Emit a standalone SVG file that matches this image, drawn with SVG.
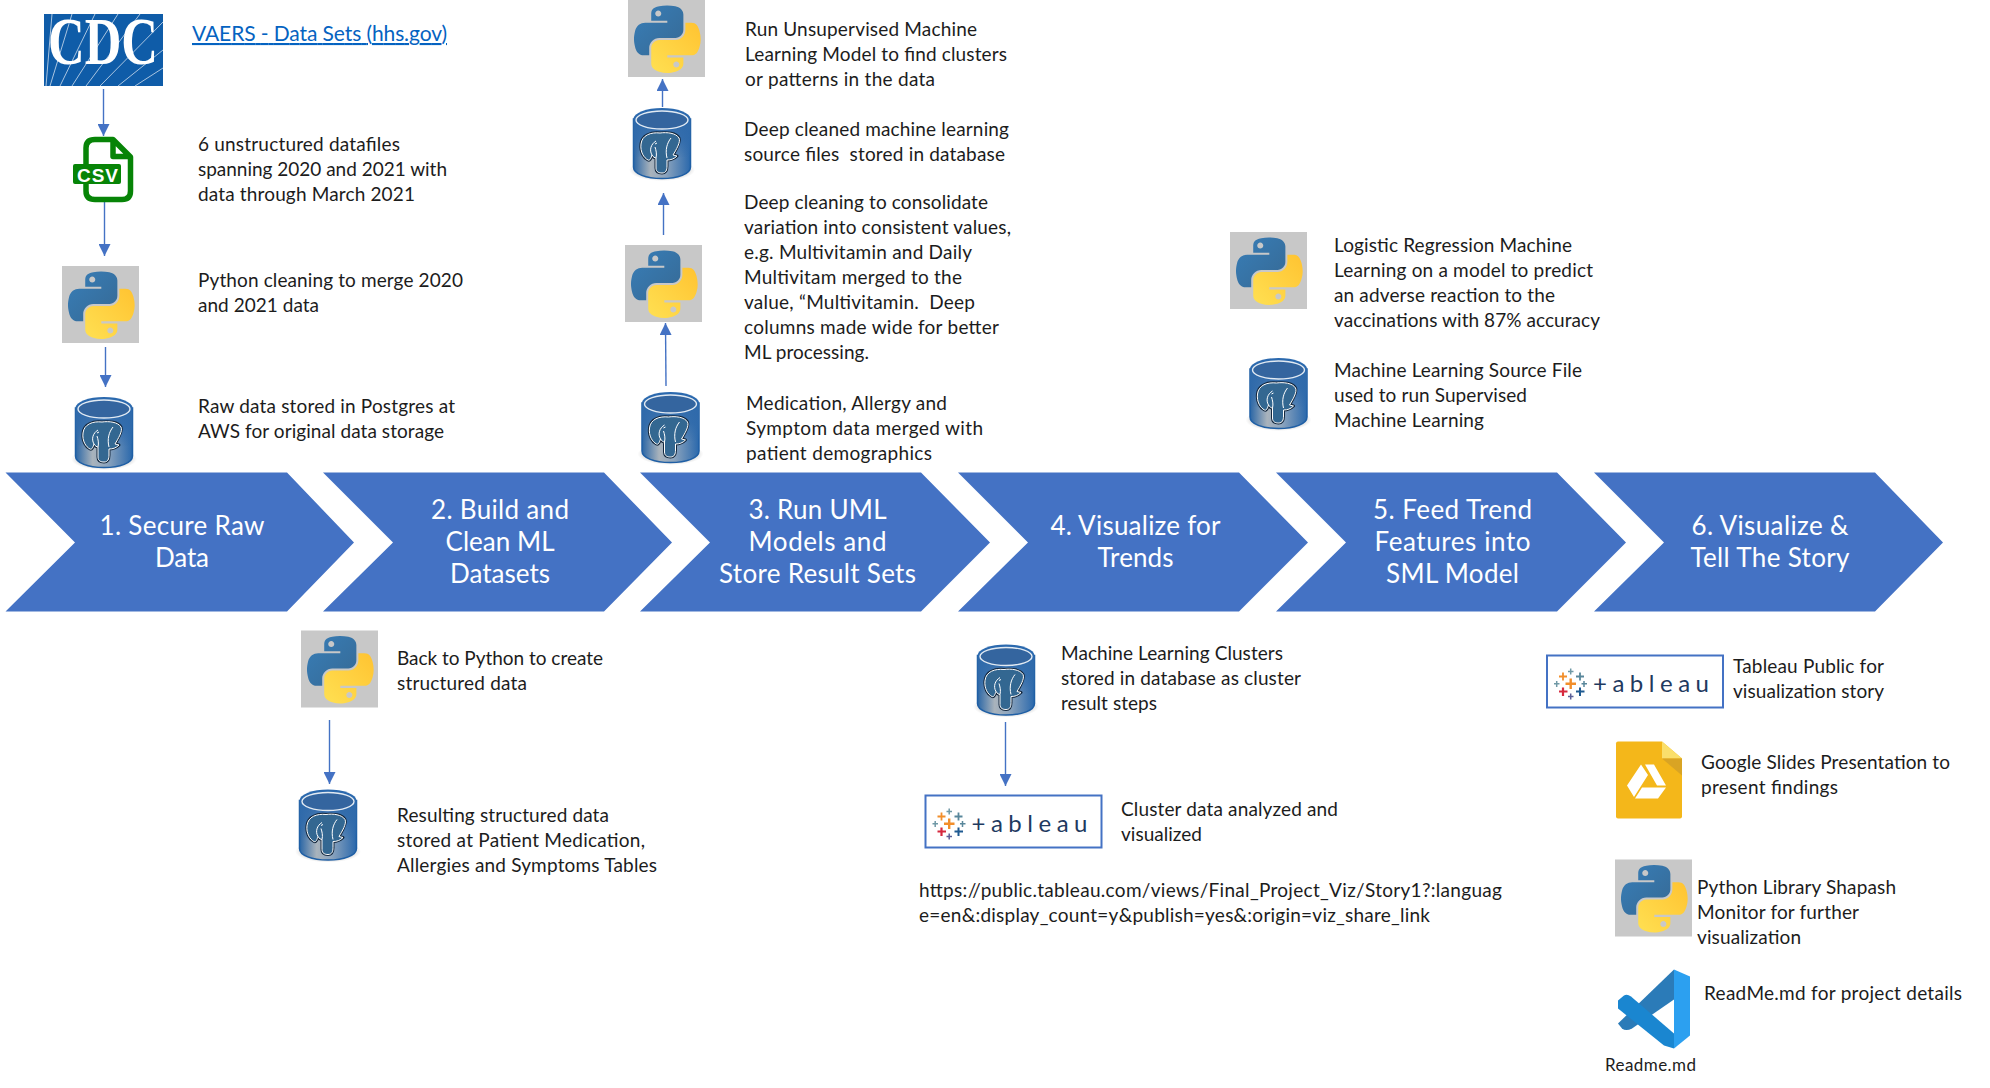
<svg xmlns="http://www.w3.org/2000/svg" width="1990" height="1088" viewBox="0 0 1990 1088">
<style>
text{font-family:Lato,"Liberation Sans",sans-serif;fill:#1c1c1c;font-size:19px;white-space:pre}
.h{fill:#fff;font-size:26px;text-anchor:middle}
.c{fill:#4472C4}
.a{stroke:#4472C4;stroke-width:1.4;fill:none;marker-end:url(#ah)}
.lk{fill:#0563C1;font-size:21px;text-decoration:underline}
.py{fill:#C8C8C8}
</style>
<defs>
<marker id="ah" markerUnits="userSpaceOnUse" markerWidth="12" markerHeight="12" refX="12" refY="6" orient="auto"><path d="M0,0L12,6L0,12Z" fill="#4472C4"/></marker>
<linearGradient id="pb" x1="0" y1="0" x2="1" y2="1"><stop offset="0" stop-color="#387EB8"/><stop offset="1" stop-color="#366994"/></linearGradient>
<linearGradient id="py" x1="0" y1="1" x2="1" y2="0"><stop offset="0" stop-color="#FFE052"/><stop offset="1" stop-color="#FFC331"/></linearGradient>
<linearGradient id="cy" x1="0" y1="0" x2="1" y2="0"><stop offset="0" stop-color="#2A66A6"/><stop offset=".3" stop-color="#A9B3BC"/><stop offset=".55" stop-color="#8FA6BE"/><stop offset="1" stop-color="#2A68AC"/></linearGradient>
<linearGradient id="cyv" x1="0" y1="0" x2="0" y2="1"><stop offset="0" stop-color="#2F6AAB"/><stop offset=".5" stop-color="#2F6AAB" stop-opacity=".85"/><stop offset="1" stop-color="#2F6AAB" stop-opacity="0"/></linearGradient>
<radialGradient id="sh"><stop offset=".6" stop-color="#999" stop-opacity=".75"/><stop offset="1" stop-color="#bbb" stop-opacity="0"/></radialGradient>
<g id="python">
<rect class="py" width="77" height="77"/>
<g transform="translate(6,5.500) scale(.6)">
<path fill="url(#pb)" d="M54.919,0C50.335,.022 45.958,.413 42.106,1.095C30.76,3.099 28.7,7.295 28.7,15.032V25.251H55.513V28.657H18.638C10.845,28.657 4.022,33.341 1.888,42.251C-.574,52.464 -.683,58.837 1.888,69.501C3.794,77.439 8.345,83.095 16.138,83.095H25.356V70.845C25.356,61.995 33.013,54.189 42.106,54.189H68.888C76.343,54.189 82.294,48.051 82.294,40.564V15.033C82.294,7.767 76.164,2.308 68.888,1.095C64.282,.328 59.502,-.02 54.919,0ZM40.419,8.22C43.188,8.22 45.45,10.518 45.45,13.345C45.45,16.161 43.188,18.438 40.419,18.438C37.639,18.438 35.388,16.161 35.388,13.345C35.388,10.518 37.639,8.22 40.419,8.22Z"/>
<path fill="url(#py)" d="M85.638,28.657V40.563C85.638,49.794 77.812,57.563 68.888,57.563H42.107C34.771,57.563 28.7,63.842 28.7,71.188V96.719C28.7,103.985 35.019,108.259 42.107,110.344C50.594,112.84 58.733,113.291 68.888,110.344C75.638,108.39 82.294,104.456 82.294,96.719V86.501H55.513V83.095H95.7C103.493,83.095 106.397,77.66 109.107,69.501C111.906,61.102 111.847,53.025 109.107,42.251C107.181,34.494 103.503,28.657 95.7,28.657ZM70.575,93.313C73.354,93.313 75.606,95.591 75.606,98.407C75.606,101.233 73.354,103.532 70.575,103.532C67.805,103.532 65.544,101.233 65.544,98.407C65.544,95.591 67.805,93.313 70.575,93.313Z"/>
</g>
</g>
<g id="db">
<ellipse cx="33" cy="62" rx="33" ry="11" fill="url(#sh)"/>
<path d="M4.500,11V59C4.500,66 17,70.500 33,70.500C49,70.500 61.500,66 61.500,59V11Z" fill="url(#cy)" stroke="#1F5FA5" stroke-width="1.500"/>
<path d="M4.500,11V47C10,52 56,52 61.500,47V11Z" fill="url(#cyv)"/>
<ellipse cx="33" cy="11" rx="28.500" ry="11" fill="#2B69AE"/>
<ellipse cx="33" cy="12" rx="26" ry="9" fill="#34659F" stroke="#E2EAF2" stroke-width="1.400"/>
<path d="M31,25C22,24 13,27 12,36C11,44 15,50 19,52C21,53 22,50 23,47C24,49 26,50 27,50L27,60C27,64 30,65 33,65C37,65 38,62 38,58L38,52C42,52 45,51 48,48L44,47C47,42 52,34 50,30C47,25 38,24 31,25Z" fill="#336791" stroke="#12263C" stroke-width="3" stroke-linejoin="round"/>
<path d="M31,25C22,24 13,27 12,36C11,44 15,50 19,52C21,53 22,50 23,47C24,49 26,50 27,50L27,60C27,64 30,65 33,65C37,65 38,62 38,58L38,52C42,52 45,51 48,48L44,47C47,42 52,34 50,30C47,25 38,24 31,25Z" fill="#336791" stroke="#fff" stroke-width="1" stroke-linejoin="round"/>
<path d="M23,47C20,42 22,36 27,33M38,50C36,42 38,35 42,30M27,50C28,46 27,42 26,39M26,36l2,-1" fill="none" stroke="#fff" stroke-width="1"/>
</g>
<g id="tableau">
<rect x="1" y="1" width="176" height="52" fill="#fff" stroke="#4472C4" stroke-width="2"/>
<g fill="none">
<path stroke="#F28E2B" stroke-width="2.400" d="M19.500,29.300h10.500M24.700,24v10.500"/>
<path stroke="#D6293E" stroke-width="2.200" d="M13,37h8.500M17,33v8.500"/>
<path stroke="#1F5A91" stroke-width="2" d="M30,37h8.500M34,33v8.500"/>
<path stroke="#F28E2B" stroke-width="1.800" d="M13,22h8M17,18v8"/>
<path stroke="#59879B" stroke-width="1.800" d="M30,22h8M34,18v8"/>
<path stroke="#7099A6" stroke-width="1.500" d="M22,17h5.500M24.700,14v6"/>
<path stroke="#7099A6" stroke-width="1.500" d="M8,29.300h5.500M10.700,26.500v6"/>
<path stroke="#59879B" stroke-width="1.500" d="M35.500,29.300h5.500M38,26.500v6"/>
<path stroke="#5B5F97" stroke-width="1.500" d="M22,42h5.500M24.700,39v6"/>
</g>
<text x="47" y="37" textLength="116" style="font-size:24px;fill:#1F3A5F">+ableau</text>
</g>
</defs>

<g id="connectors">
<path class="a" d="M103.500,89V136"/>
<path class="a" d="M104.500,202V256"/>
<path class="a" d="M105.500,347V387"/>
<path class="a" d="M662.500,107V79"/>
<path class="a" d="M663.500,235V193"/>
<path class="a" d="M666,386L665.500,323"/>
<path class="a" d="M329.500,720V784"/>
<path class="a" d="M1005.500,722V786"/>
</g>

<g id="step-1"><path class="c" d="M5.500,472.500H287L354,542.500L287,611.500H5.500L75,542.500Z"/><text class="h" x="182" y="535" textLength="165">1. Secure Raw</text><text class="h" x="182" y="567" textLength="54">Data</text></g>
<g id="step-2"><path class="c" d="M323,472.500H604L672,542.500L604,611.500H323L393,542.500Z"/><text class="h" x="500" y="519" textLength="138">2. Build and</text><text class="h" x="500" y="551" textLength="109">Clean ML</text><text class="h" x="500" y="583" textLength="100">Datasets</text></g>
<g id="step-3"><path class="c" d="M640,472.500H921L990,542.500L921,611.500H640L710,542.500Z"/><text class="h" x="817.500" y="519" textLength="138">3. Run UML</text><text class="h" x="817.500" y="551" textLength="138">Models and</text><text class="h" x="817.500" y="583" textLength="197">Store Result Sets</text></g>
<g id="step-4"><path class="c" d="M958,472.500H1239L1308,542.500L1239,611.500H958L1028,542.500Z"/><text class="h" x="1135.500" y="535" textLength="170">4. Visualize for</text><text class="h" x="1135.500" y="567" textLength="76">Trends</text></g>
<g id="step-5"><path class="c" d="M1276,472.500H1557L1626,542.500L1557,611.500H1276L1346,542.500Z"/><text class="h" x="1452.500" y="519" textLength="159">5. Feed Trend</text><text class="h" x="1452.500" y="551" textLength="156">Features into</text><text class="h" x="1452.500" y="583" textLength="133">SML Model</text></g>
<g id="step-6"><path class="c" d="M1594,472.500H1875L1943,542.500L1875,611.500H1594L1664,542.500Z"/><text class="h" x="1770" y="535" textLength="157">6. Visualize &amp;</text><text class="h" x="1770" y="567" textLength="159">Tell The Story</text></g>

<g id="cdc">
<rect x="44" y="14" width="119" height="72" fill="#0F5CA8"/>
<path d="M50,86L72,14M60,86L95,14M72,86L118,14M86,86L140,14M100,86L163,22M118,86L163,50M135,86L163,68M46,86L52,14" stroke="#A9C4E0" stroke-width="1" fill="none"/>
<text x="48" y="64" textLength="110" lengthAdjust="spacingAndGlyphs" style="font-family:'Liberation Serif',serif;font-weight:bold;font-size:68px;fill:#fff">CDC</text>
</g>
<g id="vaers"><text class="lk" x="192" y="41" textLength="255">VAERS - Data Sets (hhs.gov)</text></g>

<g id="csv">
<path d="M86,164V148Q86,139.500 95,139.500H113L130.500,157V191Q130.500,199.500 122,199.500H95Q86,199.500 86,191V184M113,139.500V156.500H130" fill="none" stroke="#078407" stroke-width="5.500" stroke-linejoin="round"/>
<rect x="73" y="164" width="48" height="20" rx="2" fill="#078407"/>
<text x="77" y="181.500" textLength="41" style="font-family:'Liberation Sans',sans-serif;font-weight:bold;font-size:19px;fill:#fff">CSV</text>
</g>
<g id="t-csv"><text x="198" y="151" textLength="202">6 unstructured datafiles</text><text x="198" y="176" textLength="249">spanning 2020 and 2021 with</text><text x="198" y="201" textLength="217">data through March 2021</text></g>

<g id="python-1"><use href="#python" x="62" y="266"/><text x="198" y="287" textLength="265">Python cleaning to merge 2020</text><text x="198" y="312" textLength="121">and 2021 data</text></g>
<g id="db-1"><use href="#db" x="71" y="397"/><text x="198" y="413" textLength="257">Raw data stored in Postgres at</text><text x="198" y="438" textLength="246">AWS for original data storage</text></g>

<g id="python-2"><use href="#python" x="301" y="630.500"/><text x="397" y="664.500" textLength="206">Back to Python to create</text><text x="397" y="689.500" textLength="130">structured data</text></g>
<g id="db-2"><use href="#db" x="295" y="789.500"/><text x="397" y="821.500" textLength="212">Resulting structured data</text><text x="397" y="846.500" textLength="248">stored at Patient Medication,</text><text x="397" y="871.500" textLength="260">Allergies and Symptoms Tables</text></g>

<g id="python-3"><use href="#python" x="628" y="0"/><text x="745" y="36" textLength="232">Run Unsupervised Machine</text><text x="745" y="61" textLength="262">Learning Model to find clusters</text><text x="745" y="86" textLength="190">or patterns in the data</text></g>
<g id="db-3"><use href="#db" x="629" y="108"/><text x="744" y="136" textLength="265">Deep cleaned machine learning</text><text x="744" y="161" textLength="261">source files  stored in database</text></g>
<g id="python-4"><use href="#python" x="625" y="245"/><text x="744" y="209" textLength="244">Deep cleaning to consolidate</text><text x="744" y="234" textLength="267">variation into consistent values,</text><text x="744" y="259" textLength="228">e.g. Multivitamin and Daily</text><text x="744" y="284" textLength="218">Multivitam merged to the</text><text x="744" y="309" textLength="231">value, “Multivitamin.  Deep</text><text x="744" y="334" textLength="255">columns made wide for better</text><text x="744" y="359" textLength="125">ML processing.</text></g>
<g id="db-4"><use href="#db" x="637.500" y="392"/><text x="746" y="410" textLength="201">Medication, Allergy and</text><text x="746" y="435" textLength="237">Symptom data merged with</text><text x="746" y="460" textLength="186">patient demographics</text></g>

<g id="db-5"><use href="#db" x="973" y="644.500"/><text x="1061" y="659.500" textLength="222">Machine Learning Clusters</text><text x="1061" y="684.500" textLength="240">stored in database as cluster</text><text x="1061" y="709.500" textLength="96">result steps</text></g>
<g id="tableau-1"><use href="#tableau" x="924.500" y="794.500"/><text x="1121" y="815.500" textLength="217">Cluster data analyzed and</text><text x="1121" y="840.500" textLength="81">visualized</text></g>
<g id="url"><text x="919" y="897" textLength="583">https://public.tableau.com/views/Final_Project_Viz/Story1?:languag</text><text x="919" y="922" textLength="511">e=en&amp;:display_count=y&amp;publish=yes&amp;:origin=viz_share_link</text></g>

<g id="python-5"><use href="#python" x="1230" y="232"/><text x="1334" y="252" textLength="238">Logistic Regression Machine</text><text x="1334" y="277" textLength="259">Learning on a model to predict</text><text x="1334" y="302" textLength="221">an adverse reaction to the</text><text x="1334" y="327" textLength="266">vaccinations with 87% accuracy</text></g>
<g id="db-6"><use href="#db" x="1245.500" y="358"/><text x="1334" y="377" textLength="248">Machine Learning Source File</text><text x="1334" y="402" textLength="193">used to run Supervised</text><text x="1334" y="427" textLength="150">Machine Learning</text></g>

<g id="tableau-2"><use href="#tableau" x="1546" y="654.500"/><text x="1733" y="672.500" textLength="151">Tableau Public for</text><text x="1733" y="697.500" textLength="151">visualization story</text></g>
<g id="slides">
<path d="M1616,743.500Q1616,741.500 1618,741.500H1662L1682,758.500V816.500Q1682,818.500 1680,818.500H1618Q1616,818.500 1616,816.500Z" fill="#F4B71A"/>
<path d="M1662,741.500L1682,758.500H1662Z" fill="#FADF6B"/><path d="M1662,758.500H1682V775.500Z" fill="#D9A424"/>
<path d="M1641,764.500L1627,785.500L1634,797L1648,775ZM1645,764.500H1654L1666,785.500H1657ZM1642,787.500H1666L1658,798.500H1635Z" fill="#fff"/>
<text x="1701" y="768.500" textLength="249">Google Slides Presentation to</text><text x="1701" y="793.500" textLength="137">present findings</text>
</g>
<g id="python-6"><use href="#python" x="1615" y="859.500"/><text x="1697" y="893.500" textLength="199">Python Library Shapash</text><text x="1697" y="918.500" textLength="162">Monitor for further</text><text x="1697" y="943.500" textLength="104">visualization</text></g>
<g id="readme">
<path d="M1618,1023.500L1674,969.500V999.500L1632,1028.500Q1626,1031.500 1622,1028.500Z" fill="#2B7BB8"/>
<path d="M1618,1000.500L1624,995.500Q1627,993.500 1631,996.500L1674,1033.500V1048.500L1664,1045.500L1618,1008.500Z" fill="#1A86D0"/>
<path d="M1674,969.500L1690,976.500V1035.500L1674,1048.500Z" fill="#2CA0F0"/>
<text x="1704" y="999.500" textLength="258">ReadMe.md for project details</text>
<text x="1605" y="1070.500" textLength="91" style="font-size:17px">Readme.md</text>
</g>
</svg>
